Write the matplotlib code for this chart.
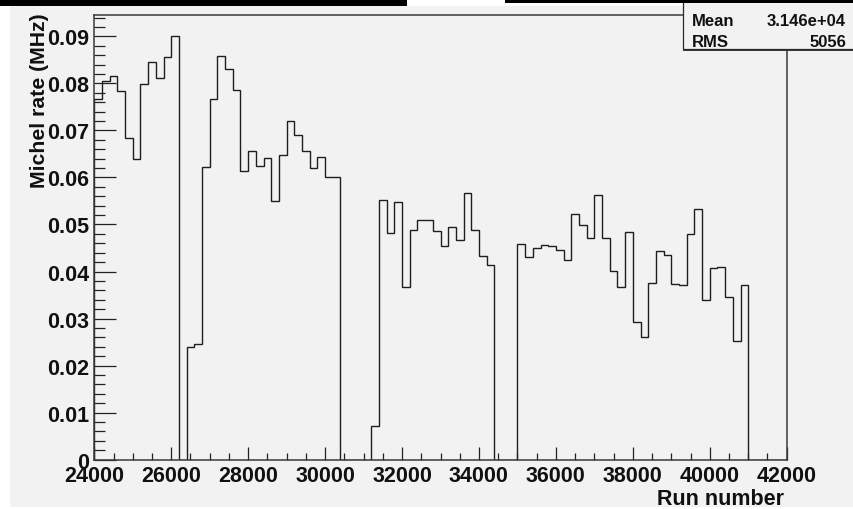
import numpy as np
import matplotlib
matplotlib.use("Agg")
import matplotlib.pyplot as plt
from matplotlib.patches import Rectangle
from matplotlib.ticker import FixedLocator, MultipleLocator

# Michel decay rate per run-number bin (200 runs per bin, starting at run 24000)
run_start = 24000
bin_width = 200
michel_rate = [
    0.0766, 0.0806, 0.0815, 0.0784, 0.0683, 0.0639, 0.0798, 0.0846, 0.0811, 0.0856,
    0.0901, 0.0000, 0.0240, 0.0246, 0.0623, 0.0766, 0.0859, 0.0831, 0.0786, 0.0614,
    0.0657, 0.0624, 0.0641, 0.0549, 0.0648, 0.0721, 0.0690, 0.0657, 0.0620, 0.0643,
    0.0600, 0.0602, 0.0000, 0.0000, 0.0000, 0.0000, 0.0072, 0.0552, 0.0482, 0.0547,
    0.0368, 0.0489, 0.0510, 0.0510, 0.0487, 0.0454, 0.0495, 0.0466, 0.0567, 0.0489,
    0.0434, 0.0414, 0.0000, 0.0000, 0.0000, 0.0458, 0.0431, 0.0451, 0.0456, 0.0454,
    0.0446, 0.0424, 0.0522, 0.0499, 0.0471, 0.0563, 0.0471, 0.0402, 0.0368, 0.0485,
    0.0293, 0.0261, 0.0376, 0.0444, 0.0436, 0.0373, 0.0371, 0.0480, 0.0534, 0.0340,
    0.0407, 0.0409, 0.0345, 0.0253, 0.0371, 0.0000, 0.0000, 0.0000, 0.0000, 0.0000,
]

x_limits = (24000, 42000)
y_limits = (0.0, 0.0946)
x_major = [24000, 26000, 28000, 30000, 32000, 34000, 36000, 38000, 40000, 42000]
x_tick_labels = ["24000", "26000", "28000", "30000", "32000", "34000",
                 "36000", "38000", "40000", "42000"]
y_major = [0.0, 0.01, 0.02, 0.03, 0.04, 0.05, 0.06, 0.07, 0.08, 0.09]
y_tick_labels = ["0", "0.01", "0.02", "0.03", "0.04", "0.05",
                 "0.06", "0.07", "0.08", "0.09"]
x_title = "Run number"
y_title = "Michel rate (MHz)"
stats_names = ["Mean", "RMS"]
stats_values = ["3.146e+04", "5056"]

W, H = 854, 510
BG = "#f2f2f2"
FONT = "Liberation Sans"

fig = plt.figure(figsize=(W / 100, H / 100), dpi=100, facecolor="white")


def fx(px):
    return px / W


def fy(py):
    return 1 - py / H


# canvas background
fig.patches.append(Rectangle((fx(10), fy(508)), fx(854) - fx(10), fy(6.5) - fy(508),
                             transform=fig.transFigure, facecolor=BG,
                             edgecolor="none", zorder=-10))

ax = fig.add_axes([fx(94.3), fy(460.7), fx(786.7) - fx(94.3), fy(15.7) - fy(460.7)])
ax.set_facecolor(BG)

edges = np.arange(run_start, run_start + bin_width * (len(michel_rate) + 1), bin_width)
ax.stairs(michel_rate, edges, baseline=0, color="#1e1e1e", linewidth=1.0)

ax.set_xlim(*x_limits)
ax.set_ylim(*y_limits)

ax.xaxis.set_major_locator(FixedLocator(x_major))
ax.xaxis.set_minor_locator(MultipleLocator(500))
ax.yaxis.set_major_locator(FixedLocator(y_major))
ax.yaxis.set_minor_locator(MultipleLocator(0.002))
ax.set_xticklabels(x_tick_labels)
ax.set_yticklabels(y_tick_labels)

ax.tick_params(axis="x", which="major", direction="in", length=9.4, width=0.9,
               color="#222222", pad=3.5)
ax.tick_params(axis="x", which="minor", direction="in", length=4.8, width=0.9,
               color="#222222")
ax.tick_params(axis="y", which="major", direction="in", length=15.6, width=0.9,
               color="#222222", pad=3.6)
ax.tick_params(axis="y", which="minor", direction="in", length=7.7, width=0.9,
               color="#222222")
for lbl in ax.get_xticklabels() + ax.get_yticklabels():
    lbl.set_fontfamily(FONT)
    lbl.set_fontweight("bold")
    lbl.set_fontsize(15.5)
    lbl.set_color("#111111")

for side in ["left", "bottom", "top", "right"]:
    ax.spines[side].set_color("#3a3a3a")
    ax.spines[side].set_linewidth(1.1)

# axis titles
fig.text(fx(784), fy(505), x_title, ha="right", va="baseline",
         fontfamily=FONT, fontweight="bold", fontsize=15.5, color="#111111")
fig.text(fx(40), fy(13), y_title, ha="center", va="top", rotation=90,
         fontfamily=FONT, fontweight="bold", fontsize=15.3, color="#111111")

# statistics box
fig.patches.append(Rectangle((fx(683.5), fy(51.5)), fx(860) - fx(683.5), fy(-5) - fy(51.5),
                             transform=fig.transFigure, facecolor="#3a3a3a",
                             edgecolor="none", zorder=5))
fig.patches.append(Rectangle((fx(682.5), fy(50.2)), fx(860) - fx(682.5), fy(-5) - fy(50.2),
                             transform=fig.transFigure, facecolor=BG,
                             edgecolor="#2a2a2a", linewidth=0.9, zorder=6))
for name, value, base in zip(stats_names, stats_values, [26, 47.3]):
    fig.text(fx(691.5), fy(base), name, ha="left", va="baseline", zorder=7,
             fontfamily=FONT, fontweight="bold", fontsize=12, color="#111111")
    fig.text(fx(846), fy(base), value, ha="right", va="baseline", zorder=7,
             fontfamily=FONT, fontweight="bold", fontsize=12, color="#111111")

# window strip along the top edge
fig.patches.append(Rectangle((0, fy(6.7)), fx(406.7), fy(0) - fy(6.7),
                             transform=fig.transFigure, facecolor="black",
                             edgecolor="none", zorder=20))
fig.patches.append(Rectangle((fx(505), fy(4.3)), 1 - fx(505), fy(0) - fy(4.3),
                             transform=fig.transFigure, facecolor="black",
                             edgecolor="none", zorder=20))

fig.savefig("out.png", dpi=100, facecolor="white")
